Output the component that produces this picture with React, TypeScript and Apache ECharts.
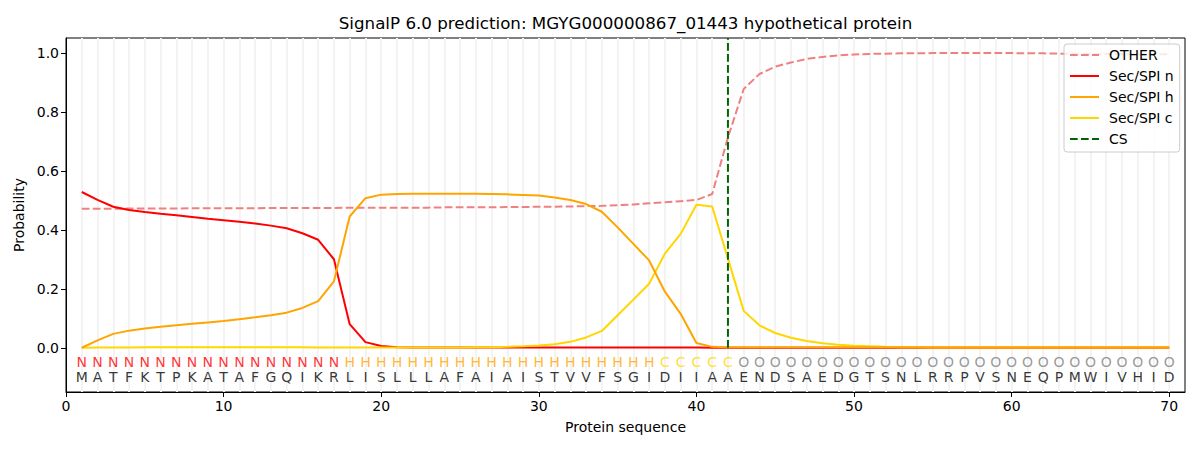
import React, { useEffect, useRef } from "react";
import * as echarts from "echarts";

const FONT = "DejaVu Sans";

const sequence = "MATFKTPKATAFGQIKRLISLLLAFAIAISTVVFSGIDIIAAENDSAEDGTSNLRRPVSNEQPMWIVHID".split("");
const regions = (
  "NNNNNNNNNNNNNNNNN" +
  "HHHHHHHHHHHHHHHHHHHH" +
  "CCCCC" +
  "OOOOOOOOOOOOOOOOOOOOOOOOOOOO"
).split("");

const other = [
  0.471, 0.471, 0.471, 0.472, 0.472, 0.472, 0.472, 0.473, 0.473, 0.473,
  0.473, 0.473, 0.474, 0.474, 0.474, 0.474, 0.474, 0.475, 0.475, 0.475,
  0.475, 0.475, 0.475, 0.476, 0.476, 0.476, 0.476, 0.477, 0.477, 0.478,
  0.478, 0.479, 0.480, 0.481, 0.483, 0.486, 0.490, 0.493, 0.497, 0.501,
  0.521, 0.713, 0.877, 0.928, 0.953, 0.967, 0.979, 0.986, 0.991, 0.994,
  0.996, 0.997, 0.998, 0.998, 0.999, 0.999, 0.999, 0.999, 0.999, 0.999,
  0.998, 0.998, 0.997, 0.997, 0.996, 0.996, 0.995, 0.995, 0.995, 0.995,
];

const secN = [
  0.528, 0.501, 0.478, 0.467, 0.460, 0.454, 0.449, 0.443, 0.437, 0.432,
  0.427, 0.421, 0.414, 0.405, 0.388, 0.366, 0.300, 0.080, 0.019, 0.006,
  0.002, 0.001, 0.001, 0.001, 0.001, 0.001, 0.001, 0.001, 0.001, 0.001,
  0.001, 0.001, 0.001, 0.001, 0.001, 0.001, 0.001, 0.001, 0.001, 0.001,
  0.000, 0.000, 0.000, 0.000, 0.000, 0.000, 0.000, 0.000, 0.000, 0.000,
  0.000, 0.000, 0.000, 0.000, 0.000, 0.000, 0.000, 0.000, 0.000, 0.000,
  0.000, 0.000, 0.000, 0.000, 0.000, 0.000, 0.000, 0.000, 0.000, 0.000,
];

const secH = [
  0.000, 0.025, 0.047, 0.058, 0.065, 0.071, 0.076, 0.081, 0.086, 0.091,
  0.097, 0.103, 0.110, 0.119, 0.135, 0.158, 0.225, 0.445, 0.507, 0.519,
  0.521, 0.522, 0.522, 0.522, 0.522, 0.522, 0.521, 0.520, 0.518, 0.516,
  0.509, 0.501, 0.487, 0.461, 0.408, 0.352, 0.296, 0.190, 0.115, 0.016,
  0.003, 0.002, 0.002, 0.002, 0.002, 0.002, 0.002, 0.002, 0.002, 0.002,
  0.002, 0.002, 0.002, 0.002, 0.002, 0.002, 0.002, 0.002, 0.002, 0.002,
  0.002, 0.002, 0.002, 0.002, 0.002, 0.002, 0.002, 0.002, 0.002, 0.002,
];

const secC = [
  0.000, 0.001, 0.001, 0.001, 0.002, 0.002, 0.002, 0.002, 0.002, 0.002,
  0.002, 0.002, 0.002, 0.002, 0.002, 0.001, 0.001, 0.001, 0.001, 0.001,
  0.001, 0.001, 0.001, 0.001, 0.001, 0.002, 0.002, 0.003, 0.005, 0.008,
  0.012, 0.020, 0.035, 0.057, 0.110, 0.163, 0.217, 0.319, 0.386, 0.485,
  0.479, 0.302, 0.125, 0.076, 0.050, 0.034, 0.023, 0.015, 0.010, 0.007,
  0.005, 0.003, 0.002, 0.002, 0.001, 0.001, 0.001, 0.001, 0.001, 0.001,
  0.001, 0.001, 0.001, 0.001, 0.001, 0.001, 0.001, 0.001, 0.001, 0.001,
];

const csPosition = 42;
const csRange = [0, 1.05];
const xTicks = [0, 10, 20, 30, 40, 50, 60, 70];
const yTicks = [0, 0.2, 0.4, 0.6, 0.8, 1.0];
const regionRowY = -0.049;
const sequenceRowY = -0.1;

const regionColors: Record<string, string> = {
  N: "#ff0000",
  H: "#ffa500",
  C: "#ffd700",
  O: "#808080",
};

const positions = sequence.map((_, i) => i + 1);
const dash = [7.7, 3.3];

export default function App() {
  const ref = useRef<HTMLDivElement>(null);

  useEffect(() => {
    if (!ref.current) return;
    const chart = echarts.init(ref.current, null, { renderer: "svg" });

    const mkLine = (name: string, values: number[], color: string, type: any = "solid") => ({
      name,
      type: "line",
      data: positions.map((p, i) => [p, values[i]]),
      symbol: "none",
      showSymbol: false,
      lineStyle: { color, width: 2, type: Array.isArray(type) ? type.slice() : type },
      itemStyle: { color },
      z: 3,
      emphasis: { disabled: true },
    });

    const option: any = {
      animation: false,
      textStyle: { fontFamily: FONT },
      graphic: [
        {
          type: "text",
          x: 625.5,
          y: 23,
          style: {
            text: "SignalP 6.0 prediction: MGYG000000867_01443 hypothetical protein",
            fontFamily: FONT,
            fontSize: 16.7,
            fill: "#000",
            align: "center",
            verticalAlign: "middle",
          },
        },
      ],
      grid: {
        left: 66,
        right: 15,
        top: 38,
        bottom: 58,
        show: true,
        borderColor: "#000",
        borderWidth: 1,
        backgroundColor: "transparent",
      },
      legend: {
        data: ["OTHER", "Sec/SPI n", "Sec/SPI h", "Sec/SPI c", "CS"],
        orient: "vertical",
        left: 1064,
        top: 44,
        z: 10,
        itemWidth: 29,
        itemHeight: 14,
        itemGap: 7,
        padding: [4, 6, 6, 5],
        borderColor: "#cccccc",
        borderWidth: 1,
        borderRadius: 3,
        backgroundColor: "rgba(255,255,255,0.8)",
        itemStyle: { opacity: 0 },
        textStyle: { fontSize: 14, color: "#000", fontFamily: FONT, padding: [0, 0, 0, 5] },
      },
      xAxis: {
        type: "value",
        min: 0,
        max: 71,
        name: "Protein sequence",
        nameLocation: "middle",
        nameGap: 28,
        nameTextStyle: { fontSize: 14, color: "#000", fontFamily: FONT },
        axisLine: { show: true, onZero: false, lineStyle: { color: "#000", width: 1 } },
        axisTick: { show: true, customValues: xTicks, length: 5, lineStyle: { color: "#000", width: 1 } },
        axisLabel: { customValues: xTicks, color: "#000", fontSize: 14, fontFamily: FONT, margin: 7 },
        splitLine: { show: false },
      },
      yAxis: {
        type: "value",
        min: -0.15,
        max: 1.05,
        name: "Probability",
        nameLocation: "middle",
        nameRotate: 90,
        nameGap: 37,
        nameTextStyle: { fontSize: 14, color: "#000", fontFamily: FONT },
        axisLine: { show: true, onZero: false, lineStyle: { color: "#000", width: 1 } },
        axisTick: { show: true, customValues: yTicks, length: 5, lineStyle: { color: "#000", width: 1 } },
        axisLabel: {
          customValues: yTicks,
          color: "#000",
          fontSize: 14,
          fontFamily: FONT,
          margin: 7,
          formatter: (v: number) => v.toFixed(1),
        },
        splitLine: { show: false },
      },
      series: [
        {
          name: "gridlines",
          type: "line",
          data: [],
          z: 0,
          markLine: {
            z: 0,
            silent: true,
            symbol: ["none", "none"],
            label: { show: false },
            emphasis: { disabled: true },
            lineStyle: { color: "#f3f3f3", width: 2, type: "solid", opacity: 1 },
            data: positions.map((p) => ({ xAxis: p })),
          },
        },
        mkLine("OTHER", other, "#f08080", dash),
        mkLine("Sec/SPI n", secN, "#ff0000"),
        mkLine("Sec/SPI c", secC, "#ffd700"),
        mkLine("Sec/SPI h", secH, "#ffa500"),
        {
          name: "CS",
          type: "line",
          data: csRange.map((y) => [csPosition, y]),
          symbol: "none",
          showSymbol: false,
          lineStyle: { color: "#006400", width: 2, type: dash.slice() },
          itemStyle: { color: "#006400" },
          z: 4,
          emphasis: { disabled: true },
        },
        {
          name: "regions",
          type: "scatter",
          symbolSize: 1,
          itemStyle: { color: "transparent" },
          silent: true,
          z: 5,
          data: regions.map((r, i) => ({
            value: [positions[i], regionRowY],
            name: r,
            label: { color: regionColors[r] },
          })),
          label: {
            show: true,
            position: "inside",
            formatter: "{b}",
            fontSize: 14,
            fontFamily: FONT,
          },
        },
        {
          name: "sequence",
          type: "scatter",
          symbolSize: 1,
          itemStyle: { color: "transparent" },
          silent: true,
          z: 5,
          data: sequence.map((s, i) => ({ value: [positions[i], sequenceRowY], name: s })),
          label: {
            show: true,
            position: "inside",
            formatter: "{b}",
            fontSize: 14,
            fontFamily: FONT,
            color: "#000",
          },
        },
      ],
    };

    chart.setOption(option);
    return () => chart.dispose();
  }, []);

  return (
    <div
      ref={ref}
      style={{ position: "absolute", left: 0, top: 0, width: 1200, height: 450, background: "#fff" }}
    />
  );
}
